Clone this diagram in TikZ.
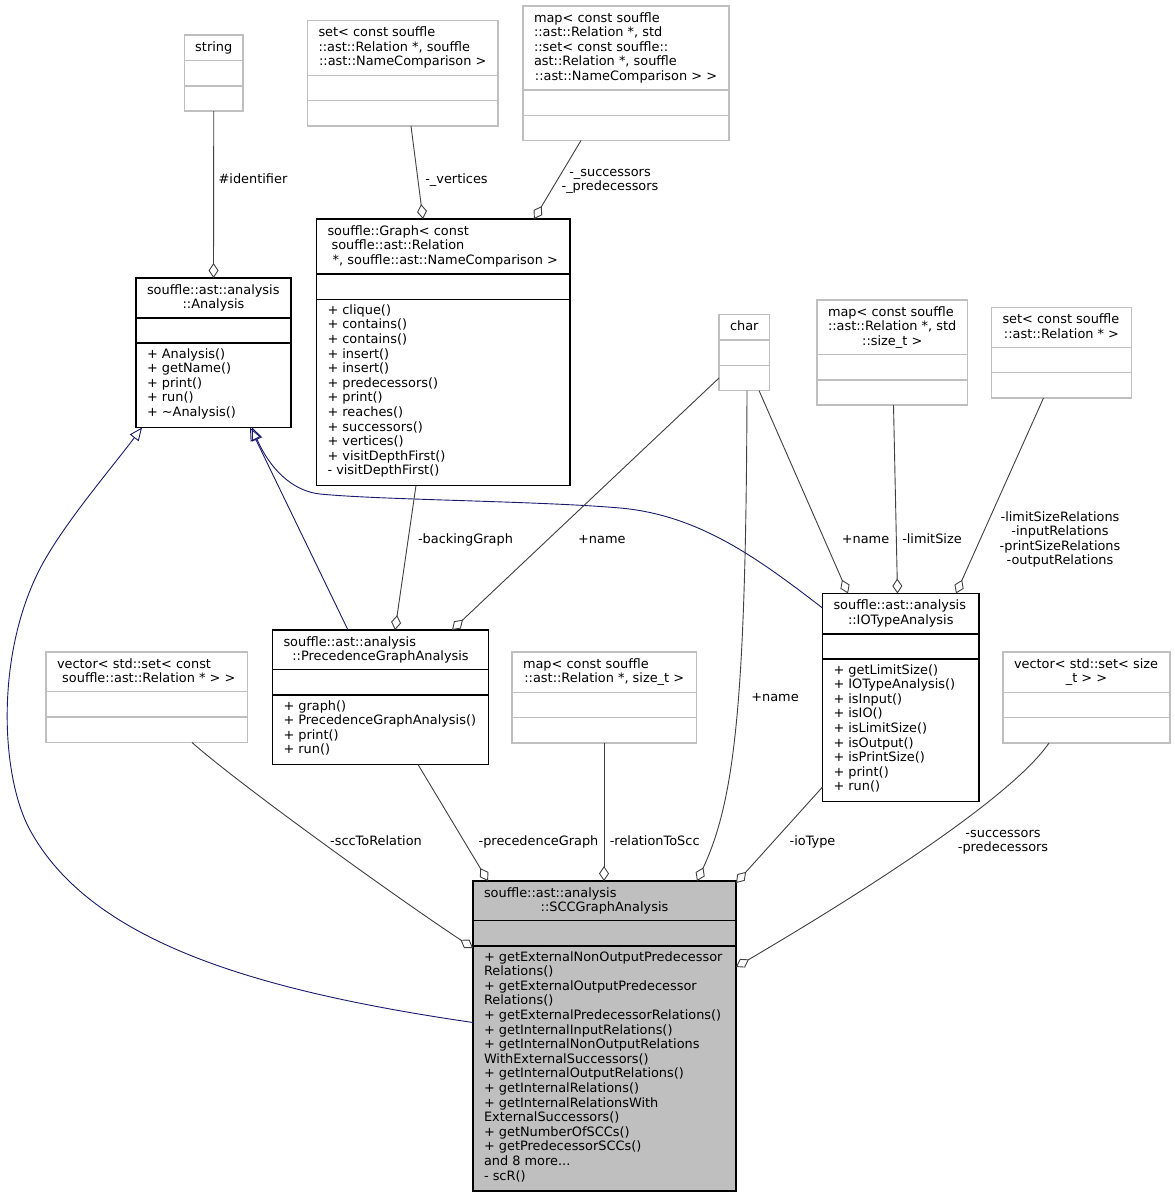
\documentclass[tikz,border=0pt]{standalone}
\usepackage{fontspec}
\setmainfont{DejaVu Sans}
\usetikzlibrary{arrows.meta,calc}
\definecolor{edgegray}{HTML}{404040}
\definecolor{inhblue}{HTML}{191970}
\definecolor{boxgray}{HTML}{BFBFBF}
\tikzset{
  cls/.style={draw=black, line width=1.3pt, inner sep=0, outer sep=0, anchor=north west, fill=white},
  clssep/.style={draw=black, line width=1.3pt},
  ext/.style={draw=boxgray, line width=1.2pt, inner sep=0, outer sep=0, anchor=north west, fill=white},
  extsep/.style={draw=boxgray, line width=1.2pt},
  focus/.style={draw=black, line width=1.3pt, inner sep=0, outer sep=0, anchor=north west, fill=boxgray},
  focussep/.style={draw=black, line width=1.3pt},
  txt/.style={inner sep=0, outer sep=0, anchor=base west, font=\fontsize{12.9}{14.6}\selectfont},
  lbl/.style={inner sep=0, outer sep=0, anchor=base, font=\fontsize{12.9}{14.6}\selectfont},
  agg/.style={draw=edgegray, line width=0.9pt, -{Diamond[open, length=15pt, width=10pt]}},
  inh/.style={draw=inhblue, line width=0.9pt, -{Triangle[open, length=13pt, width=11pt]}},
}
\newcommand\umlbox[8]{%
  \node[#2, minimum width={#5-#3}, minimum height={#6-#4}] (#1) at (#3,#4) {};
  \draw[#2sep] ($(#1.north west)+(0,#7-#4)$) -- ($(#1.north east)+(0,#7-#4)$);
  \draw[#2sep] ($(#1.north west)+(0,#8-#4)$) -- ($(#1.north east)+(0,#8-#4)$);
}
\newcommand\umltitle[6]{%
  \pgfmathsetlengthmacro\umltw{#4-#2-22}%
  \node[txt] (#1-t) at ({#2+11},{#3+16}) {\begin{tabular}[t]{@{}l@{}}#5\makebox[\umltw][c]{#6}\end{tabular}};
}
\newcommand\umlops[4]{%
  \node[txt] (#1-m) at ({#2+11},{#3+15}) {\begin{tabular}[t]{@{}l@{}}#4\end{tabular}};
}
\begin{document}
\begin{tikzpicture}[x=1pt,y=-1pt]
\fill[white] (0,0) rectangle (1175,1197);
\useasboundingbox (0,0) rectangle (1175,1197);

% ---------- boxes ----------
\umlbox{str}{ext}{184.5}{35}{243}{111}{60.5}{86}
\umltitle{str}{184.5}{35}{243}{}{string}

\umlbox{setnc}{ext}{307.5}{20.5}{498}{126}{75.5}{100.5}
\umltitle{setnc}{307.5}{20.5}{498}{set< const souffle\\::ast::Relation *, souffle\\}{::ast::NameComparison >}

\umlbox{mapb}{ext}{523}{6}{729}{140.5}{90}{115.5}
\umltitle{mapb}{523}{6}{729}{map< const souffle\\::ast::Relation *, std\\::set< const souffle::\\ast::Relation *, souffle\\}{::ast::NameComparison > >}

\umlbox{ana}{cls}{136}{278}{291}{427.5}{318}{343}
\umltitle{ana}{136}{278}{291}{souffle::ast::analysis\\}{::Analysis}
\umlops{ana}{136}{343}{+ Analysis()\\+ getName()\\+ print()\\+ run()\\+ \textasciitilde Analysis()}

\umlbox{graph}{cls}{316.5}{219}{570}{485.5}{274}{299.3}
\umltitle{graph}{316.5}{219}{570}{souffle::Graph< const\\\ souffle::ast::Relation\\}{\ *, souffle::ast::NameComparison >}
\umlops{graph}{316.5}{299.3}{+ clique()\\+ contains()\\+ contains()\\+ insert()\\+ insert()\\+ predecessors()\\+ print()\\+ reaches()\\+ successors()\\+ vertices()\\+ visitDepthFirst()\\- visitDepthFirst()}

\umlbox{chr}{ext}{719}{314.5}{769.5}{390.5}{340}{365.3}
\umltitle{chr}{719}{314.5}{769.5}{}{char}

\umlbox{mapsz}{ext}{817}{300}{967.5}{405}{354.5}{380}
\umltitle{mapsz}{817}{300}{967.5}{map< const souffle\\::ast::Relation *, std\\}{::size\_t >}

\umlbox{setrel}{ext}{991.5}{307.5}{1131.5}{398}{347.3}{372.7}
\umltitle{setrel}{991.5}{307.5}{1131.5}{set< const souffle\\}{::ast::Relation * >}

\umlbox{pga}{cls}{272.5}{630}{488.5}{764.5}{669.5}{695}
\umltitle{pga}{272.5}{630}{488.5}{souffle::ast::analysis\\}{::PrecedenceGraphAnalysis}
\umlops{pga}{272.5}{695}{+ graph()\\+ PrecedenceGraphAnalysis()\\+ print()\\+ run()}

\umlbox{vecrel}{ext}{46}{652}{247.5}{742.5}{691.5}{717}
\umltitle{vecrel}{46}{652}{247.5}{vector< std::set< const\\}{\ souffle::ast::Relation * > >}

\umlbox{maprs}{ext}{512}{652}{696.5}{743}{692.5}{717.7}
\umltitle{maprs}{512}{652}{696.5}{map< const souffle\\}{::ast::Relation *, size\_t >}

\umlbox{iot}{cls}{822.5}{593.5}{979}{801.5}{634}{659}
\umltitle{iot}{822.5}{593.5}{979}{souffle::ast::analysis\\}{::IOTypeAnalysis}
\umlops{iot}{822.5}{659}{+ getLimitSize()\\+ IOTypeAnalysis()\\+ isInput()\\+ isIO()\\+ isLimitSize()\\+ isOutput()\\+ isPrintSize()\\+ print()\\+ run()}

\umlbox{vecsz}{ext}{1003}{652}{1170}{743}{692.5}{717.7}
\umltitle{vecsz}{1003}{652}{1170}{vector< std::set< size\\}{\_t > >}

\umlbox{scc}{focus}{473}{881}{736}{1191}{920.5}{946}
\umltitle{scc}{473}{881}{736}{souffle::ast::analysis\\}{::SCCGraphAnalysis}
\umlops{scc}{473}{946}{+ getExternalNonOutputPredecessor\\Relations()\\+ getExternalOutputPredecessor\\Relations()\\+ getExternalPredecessorRelations()\\+ getInternalInputRelations()\\+ getInternalNonOutputRelations\\WithExternalSuccessors()\\+ getInternalOutputRelations()\\+ getInternalRelations()\\+ getInternalRelationsWith\\ExternalSuccessors()\\+ getNumberOfSCCs()\\+ getPredecessorSCCs()\\and 8 more...\\- scR()}

% ---------- inheritance ----------
\draw[inh] ($(pga.north west)+(75.5,0)$) -- ($(ana.north west)+(114,149.5)$);
\draw[inh] ($(scc.north west)+(0,141.5)$) .. controls (250,990) and (90,940) .. (30,830)
  .. controls (0,775) and (-5,650) .. (43,563)
  .. controls (67,520) and (110,470) .. ($(ana.north west)+(6,149.5)$);
\draw[inh] ($(iot.north west)+(0,14.5)$) .. controls (760,560) and (700,515) .. (620,508)
  .. controls (540,501) and (380,500) .. (320,494)
  .. controls (285,490) and (265,458) .. ($(ana.north west)+(116,149.5)$);

% ---------- aggregation ----------
\draw[agg] (str.south) -- (ana.north);
\draw[agg] ($(setnc.north west)+(103.5,105.5)$) -- ($(graph.north west)+(106.5,0)$);
\draw[agg] ($(mapb.north west)+(58,134.5)$) -- ($(graph.north west)+(217.5,0)$);
\draw[agg] ($(graph.north west)+(99.5,266.5)$) -- ($(pga.north west)+(122.5,0)$);
\draw[agg] ($(chr.north west)+(0,63.5)$) -- ($(pga.north west)+(179.5,0)$);
\draw[agg] ($(chr.north west)+(40,76)$) -- ($(iot.north west)+(25.5,0)$);
\draw[agg] ($(mapsz.north west)+(76.5,105)$) -- ($(iot.north west)+(75,0)$);
\draw[agg] ($(setrel.north west)+(52,90.5)$) -- ($(iot.north west)+(133.5,0)$);
\draw[agg] ($(chr.north west)+(28,76)$) .. controls (746,700) and (735,800) .. ($(scc.north west)+(224,0)$);
\draw[agg] ($(vecrel.north west)+(146,90.5)$) .. controls (240,785) and (400,900) .. ($(scc.north west)+(0,67)$);
\draw[agg] ($(pga.north west)+(145.5,134.5)$) -- ($(scc.north west)+(15,0)$);
\draw[agg] ($(maprs.north west)+(92,91)$) -- ($(scc.north west)+(131,0)$);
\draw[agg] ($(iot.north west)+(0,193.5)$) -- ($(scc.north west)+(263,2)$);
\draw[agg] ($(vecsz.north west)+(46,91)$) .. controls (1010,800) and (850,900) .. ($(scc.north west)+(263,86)$);

% ---------- labels ----------
\node[lbl] (l-ident) at (253,183) {\#identifier};
\node[lbl] (l-vert) at (456.5,183) {-\_vertices};
\node[lbl] (l-sp) at (610,176) {\begin{tabular}[t]{@{}c@{}}-\_successors\\-\_predecessors\end{tabular}};
\node[lbl] (l-bg) at (465.5,543) {-backingGraph};
\node[lbl] (l-name1) at (601.8,543) {+name};
\node[lbl] (l-name2) at (865.5,543) {+name};
\node[lbl] (l-ls) at (932,543) {-limitSize};
\node[lbl] (l-rels) at (1060,521) {\begin{tabular}[t]{@{}c@{}}-limitSizeRelations\\-inputRelations\\-printSizeRelations\\-outputRelations\end{tabular}};
\node[lbl] (l-name3) at (775,701) {+name};
\node[lbl] (l-s2r) at (376,845) {-sccToRelation};
\node[lbl] (l-pg) at (538.5,845) {-precedenceGraph};
\node[lbl] (l-r2s) at (654.7,845) {-relationToScc};
\node[lbl] (l-io) at (812.5,845) {-ioType};
\node[lbl] (l-sp2) at (1003,837) {\begin{tabular}[t]{@{}c@{}}-successors\\-predecessors\end{tabular}};
\end{tikzpicture}
\end{document}
